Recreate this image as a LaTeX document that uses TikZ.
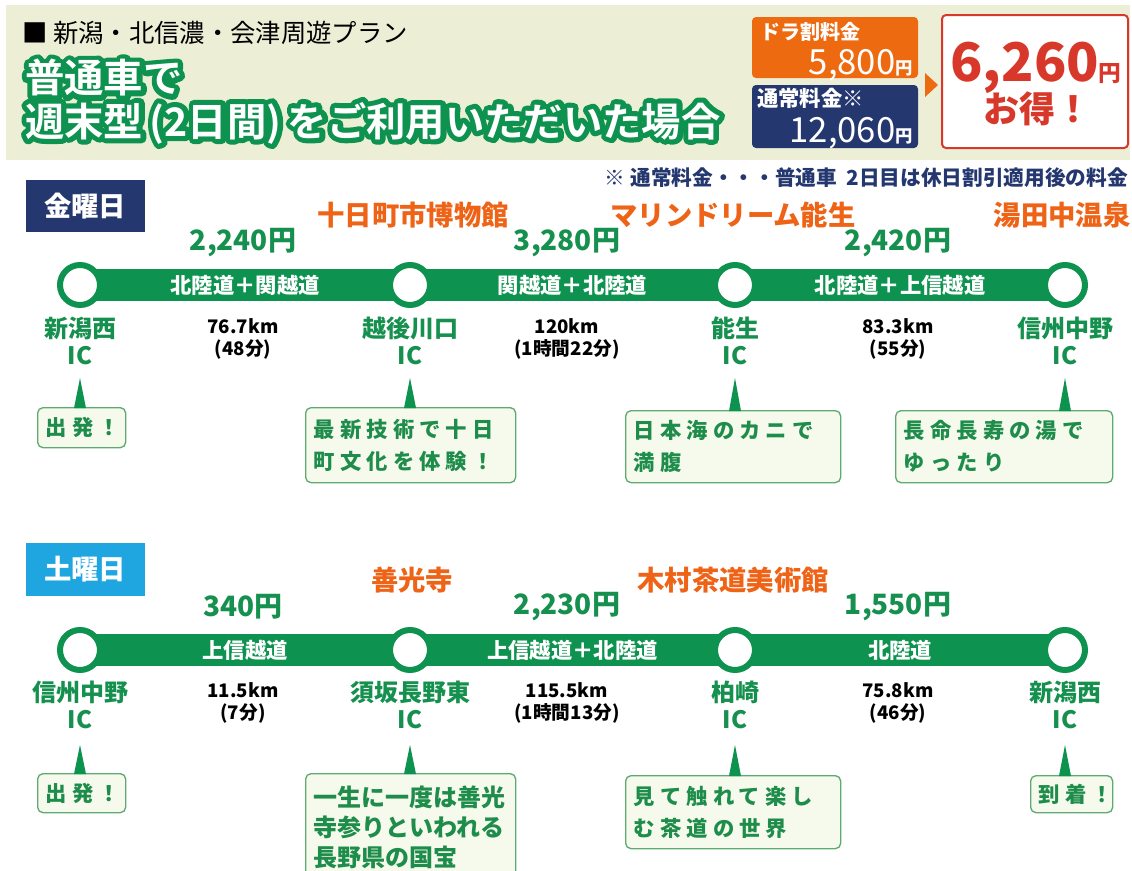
\documentclass[tikz,border=0pt]{standalone}
\usepackage{fontspec}
\setmainfont{Noto Sans CJK JP}
\newfontfamily\olfont[UprightFont=* Bold, FakeBold=26]{Noto Sans CJK JP}
\newfontfamily\tifont[UprightFont=* Bold]{Noto Sans CJK JP}
\usetikzlibrary{calc}
\definecolor{rgreen}{HTML}{0E924F}
\definecolor{tgreen}{HTML}{16904E}
\definecolor{cgreen}{HTML}{1E8C4A}
\definecolor{cbord}{HTML}{5FAA72}
\definecolor{cfill}{HTML}{F6FAEC}
\definecolor{otext}{HTML}{EE6316}
\definecolor{obox}{HTML}{EE6A10}
\definecolor{navy}{HTML}{24376F}
\definecolor{lblue}{HTML}{1FA6E0}
\definecolor{rred}{HTML}{D8382A}
\definecolor{hbg}{HTML}{ECEFD5}
\newcommand\fs[2]{\fontsize{#1}{#2}\selectfont}
\newcommand\roundjoin{\special{pdf:literal direct 1 j 1 J}}
\tikzset{
  txt/.style={inner sep=0pt, anchor=center},
  bar/.style={draw=rgreen, line width=24pt},
  ic/.style={circle, draw=rgreen, fill=white, line width=4.5pt, minimum size=30pt, inner sep=0pt},
  road/.style={txt, text=white, font=\fs{16pt}{16pt}\bfseries},
  price/.style={txt, text=tgreen, font=\fs{21pt}{21pt}\bfseries},
  spot/.style={txt, text=otext, font=\fs{20.5pt}{20.5pt}\bfseries},
  station/.style={txt, text=tgreen, align=center, font=\fs{18pt}{20pt}\bfseries},
  dist/.style={txt, text=black, align=center, font=\fs{14pt}{16.5pt}\bfseries},
  callout/.style={draw=cbord, fill=cfill, line width=1pt, rounded corners=4pt,
    anchor=north west, inner xsep=6pt, inner ysep=0pt, text=cgreen},
  fricall/.style={callout, align=left, font=\fs{16pt}{24pt}\bfseries\addfontfeature{LetterSpace=24}},
  satcall/.style={callout, align=left, font=\fs{18pt}{22.5pt}\bfseries},
  ptr/.style={fill=rgreen},
  titleol/.style={txt, anchor=west, text=rgreen, font=\fs{29.5pt}{29.5pt}\olfont},
  titlefg/.style={txt, anchor=west, text=white, font=\fs{29.5pt}{29.5pt}\tifont},
}
\begin{document}
\begin{tikzpicture}[x=0.75pt,y=-0.75pt]
\useasboundingbox (0,0) rectangle (1132,871);
\fill[white] (0,0) rectangle (1132,871);

% ---------- header ----------
\fill[hbg] (6,5) rectangle (1130,160);
\node[txt, anchor=west, text=black, font=\fs{19pt}{19pt}] (t1) at (22,33) {■ 新潟・北信濃・会津周遊プラン};
\node[titleol] (t2o) at (25,78) {\roundjoin 普通車で};
\node[titlefg] (t2) at (25,78) {普通車で};
\node[titleol] (t3o) at (25,123) {\roundjoin 週末型\,(2日間)\,をご利用いただいた場合};
\node[titlefg] (t3) at (25,123) {週末型\,(2日間)\,をご利用いただいた場合};

\fill[obox, rounded corners=3pt] (752,17) rectangle (918,78);
\fill[navy, rounded corners=3pt] (752,85) rectangle (918,148);
\node[txt, anchor=west, text=white, font=\fs{15pt}{15pt}\bfseries] (dl) at (760,32) {ドラ割料金};
\node[inner sep=0pt, anchor=base east, text=white] (dp) at (913,74) {\fs{26pt}{26pt}5,800\fs{13pt}{13pt}\bfseries 円};
\node[txt, anchor=west, text=white, font=\fs{16pt}{16pt}\bfseries] (nl) at (757,98) {通常料金※};
\node[inner sep=0pt, anchor=base east, text=white] (np) at (913,142) {\fs{26pt}{26pt}12,060\fs{13pt}{13pt}\bfseries 円};
\fill[obox] (925,73) -- (938,85) -- (925,97) -- cycle;
\draw[rred, line width=1.5pt, fill=white, rounded corners=3pt] (942,15) rectangle (1128,148);
\node[inner sep=0pt, anchor=base, text=rred, font=\bfseries] (save) at (1036,81) {\fs{40pt}{40pt}6,260\fs{17pt}{17pt}円};
\node[txt, text=rred, font=\fs{27pt}{27pt}\bfseries] (otoku) at (1037,109) {お得！};
\node[txt, anchor=east, text=navy, font=\fs{15.5pt}{15.5pt}\bfseries] (note) at (1128,178) {※ 通常料金・・・普通車\ \ 2日目は休日割引適用後の料金};

% ---------- Friday ----------
\fill[navy] (26,180) rectangle (145,232);
\node[txt, text=white, font=\fs{20.5pt}{20.5pt}\bfseries] (fri) at (85,206) {金曜日};

\coordinate (f1) at (80,285);
\coordinate (f2) at (410,285);
\coordinate (f3) at (735,285);
\coordinate (f4) at (1065,285);
\draw[bar] (f1) -- node[road] (fr1) {北陸道＋関越道} (f2);
\draw[bar] (f2) -- node[road] (fr2) {関越道＋北陸道} (f3);
\draw[bar] (f3) -- node[road] (fr3) {北陸道＋上信越道} (f4);
\node[ic] (fc1) at (f1) {};
\node[ic] (fc2) at (f2) {};
\node[ic] (fc3) at (f3) {};
\node[ic] (fc4) at (f4) {};

\node[price] (fp1) at (243,243) {2,240円};
\node[price] (fp2) at (567,243) {3,280円};
\node[price] (fp3) at (898,243) {2,420円};
\node[spot] (fa1) at (413,215) {十日町市博物館};
\node[spot] (fa2) at (733,215) {マリンドリーム能生};
\node[spot] (fa3) at (1062,215) {湯田中温泉};

\node[station] (fs1) at (80,341) {新潟西\\IC};
\node[station] (fs2) at (410,341) {越後川口\\IC};
\node[station] (fs3) at (735,341) {能生\\IC};
\node[station] (fs4) at (1065,341) {信州中野\\IC};
\node[dist] (fd1) at (243,339) {76.7km\\(48分)};
\node[dist] (fd2) at (567,339) {120km\\(1時間22分)};
\node[dist] (fd3) at (898,339) {83.3km\\(55分)};

\node[fricall, align=center, text width=54pt, minimum height=30pt] (c1) at (37,407) {出発！};
\node[fricall, text width=145.5pt, minimum height=56.25pt] (c2) at (305,407) {最新技術で十日\\町文化を体験！};
\node[fricall, text width=149.25pt, minimum height=54pt] (c3) at (625,410) {日本海のカニで\\満腹};
\node[fricall, text width=150.75pt, minimum height=54pt] (c4) at (895,410) {長命長寿の湯で\\ゆったり};

\coordinate (fq1) at (80,378);
\coordinate (fq2) at (410,378);
\coordinate (fq3) at (735,378);
\coordinate (fq4) at (1065,378);
\fill[ptr] (fq1) -- ($(fq1 |- c1.north)+(-6,1)$) -- ($(fq1 |- c1.north)+(6,1)$) -- cycle;
\fill[ptr] (fq2) -- ($(fq2 |- c2.north)+(-6,1)$) -- ($(fq2 |- c2.north)+(6,1)$) -- cycle;
\fill[ptr] (fq3) -- ($(fq3 |- c3.north)+(-6,1)$) -- ($(fq3 |- c3.north)+(6,1)$) -- cycle;
\fill[ptr] (fq4) -- ($(fq4 |- c4.north)+(-6,1)$) -- ($(fq4 |- c4.north)+(6,1)$) -- cycle;

% ---------- Saturday ----------
\fill[lblue] (26,543) rectangle (145,596);
\node[txt, text=white, font=\fs{20.5pt}{20.5pt}\bfseries] (sat) at (85,569) {土曜日};

\coordinate (s1) at (80,650);
\coordinate (s2) at (410,650);
\coordinate (s3) at (735,650);
\coordinate (s4) at (1065,650);
\draw[bar] (s1) -- node[road] (sr1) {上信越道} (s2);
\draw[bar] (s2) -- node[road] (sr2) {上信越道＋北陸道} (s3);
\draw[bar] (s3) -- node[road] (sr3) {北陸道} (s4);
\node[ic] (sc1) at (s1) {};
\node[ic] (sc2) at (s2) {};
\node[ic] (sc3) at (s3) {};
\node[ic] (sc4) at (s4) {};

\node[price] (sp1) at (243,607) {340円};
\node[price] (sp2) at (567,607) {2,230円};
\node[price] (sp3) at (898,607) {1,550円};
\node[spot] (sa1) at (412,580) {善光寺};
\node[spot] (sa2) at (733,580) {木村茶道美術館};

\node[station] (ss1) at (80,705) {信州中野\\IC};
\node[station] (ss2) at (410,705) {須坂長野東\\IC};
\node[station] (ss3) at (735,705) {柏崎\\IC};
\node[station] (ss4) at (1065,705) {新潟西\\IC};
\node[dist] (sd1) at (243,703) {11.5km\\(7分)};
\node[dist] (sd2) at (567,703) {115.5km\\(1時間13分)};
\node[dist] (sd3) at (898,703) {75.8km\\(46分)};

\node[fricall, align=center, text width=54pt, minimum height=29.25pt] (d1) at (37,773) {出発！};
\node[satcall, text width=145.5pt, minimum height=80.25pt] (d2) at (305,773) {一生に一度は善光\\寺参りといわれる\\長野県の国宝};
\node[fricall, text width=149.25pt, minimum height=54.75pt] (d3) at (625,775) {見て触れて楽し\\む茶道の世界};
\node[fricall, align=center, text width=49.5pt, minimum height=27.75pt] (d4) at (1030,775) {到着！};

\coordinate (sq1) at (80,745);
\coordinate (sq2) at (410,745);
\coordinate (sq3) at (735,745);
\coordinate (sq4) at (1065,745);
\fill[ptr] (sq1) -- ($(sq1 |- d1.north)+(-6,1)$) -- ($(sq1 |- d1.north)+(6,1)$) -- cycle;
\fill[ptr] (sq2) -- ($(sq2 |- d2.north)+(-6,1)$) -- ($(sq2 |- d2.north)+(6,1)$) -- cycle;
\fill[ptr] (sq3) -- ($(sq3 |- d3.north)+(-6,1)$) -- ($(sq3 |- d3.north)+(6,1)$) -- cycle;
\fill[ptr] (sq4) -- ($(sq4 |- d4.north)+(-6,1)$) -- ($(sq4 |- d4.north)+(6,1)$) -- cycle;
\end{tikzpicture}
\end{document}
